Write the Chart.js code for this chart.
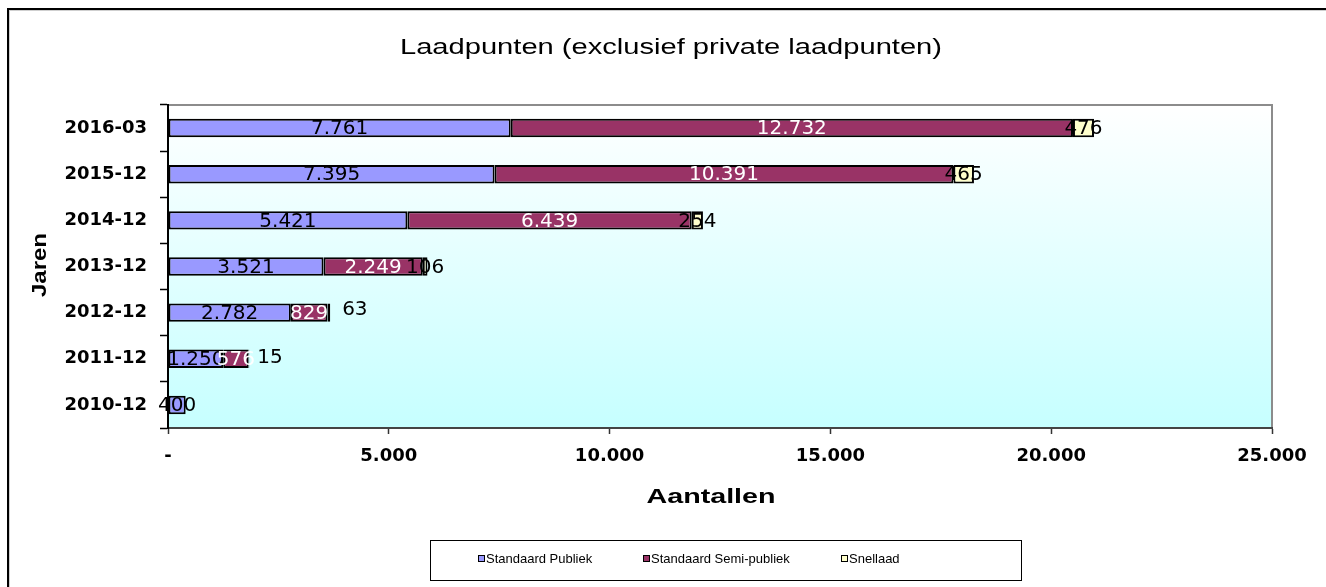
<!DOCTYPE html>
<html>
<head>
<meta charset="utf-8">
<script src="https://cdn.jsdelivr.net/npm/chart.js@4/dist/chart.umd.min.js"></script>
<style>
  body { margin: 0; background: #fff; }
  #wrap { width: 1326px; height: 587px; }
</style>
</head>
<body>
<div id="wrap"><canvas id="laadpunten" width="1326" height="587"></canvas></div>
<script>
const categories = ['2010-12', '2011-12', '2012-12', '2013-12', '2014-12', '2015-12', '2016-03'];
const publiek = [400, 1250, 2782, 3521, 5421, 7395, 7761];
const semiPubliek = [null, 576, 829, 2249, 6439, 10391, 12732];
const snellaad = [null, 15, 63, 106, 254, 465, 476];
const xTickLabels = ['-', '5.000', '10.000', '15.000', '20.000', '25.000'];

const seriesNames = ['Standaard Publiek', 'Standaard Semi-publiek', 'Snellaad'];
const seriesColors = ['#9999ff', '#993366', '#ffffcc'];
const labelColors = ['#000', '#fff', '#000'];

// dutch thousands separator
function nl(v) {
    return String(v).replace(/\B(?=(\d{3})+(?!\d))/g, '.');
}

// Excel text looks horizontally stretched, squeeze text into a width
function stretchText(ctx, text, x, y, font, width, rotate) {
    ctx.save();
    ctx.font = font;
    const w = ctx.measureText(text).width;
    ctx.translate(x, y);
    if (rotate) ctx.rotate(-Math.PI / 2);
    ctx.scale(width / w, 1);
    ctx.textAlign = 'center';
    ctx.textBaseline = 'middle';
    ctx.fillStyle = '#000';
    ctx.fillText(text, 0, 0);
    ctx.restore();
}

const decor = {
    id: 'decor',
    beforeDraw(chart) {
        const ctx = chart.ctx;
        const a = chart.chartArea;
        ctx.save();
        ctx.fillStyle = '#fff';
        ctx.fillRect(0, 0, chart.width, chart.height);
        const g = ctx.createLinearGradient(0, a.top, 0, a.bottom);
        g.addColorStop(0, '#ffffff');
        g.addColorStop(1, '#c6ffff');
        ctx.fillStyle = g;
        ctx.fillRect(a.left, a.top, a.right - a.left, a.bottom - a.top);
        // plot border top + right
        ctx.strokeStyle = '#8c8c8c';
        ctx.lineWidth = 2;
        ctx.beginPath();
        ctx.moveTo(a.left, a.top);
        ctx.lineTo(a.right, a.top);
        ctx.lineTo(a.right, a.bottom);
        ctx.stroke();
        // outer frame
        ctx.fillStyle = '#000';
        ctx.fillRect(7, 8, 2, chart.height);
        ctx.fillRect(7, 8, chart.width, 2);
        ctx.fillStyle = '#cfcfcf';
        ctx.fillRect(9, 10, 1, chart.height);
        ctx.fillRect(9, 10, chart.width, 1);
        ctx.restore();
    },
    afterDatasetsDraw(chart) {
        const ctx = chart.ctx;
        // labels Excel moved beside the bar
        const shift = { '2012-12': [26, -4], '2011-12': [21, -2] };
        ctx.save();
        ctx.font = '20px "DejaVu Sans"';
        ctx.textAlign = 'center';
        ctx.textBaseline = 'middle';
        chart.data.datasets.forEach((ds, i) => {
            const meta = chart.getDatasetMeta(i);
            meta.data.forEach((el, j) => {
                const v = ds.data[j];
                if (v === null) return;
                let x = (el.x + el.base) / 2;
                let y = el.y + 1;
                if (i === 2 && shift[categories[j]]) {
                    x += shift[categories[j]][0];
                    y += shift[categories[j]][1];
                }
                ctx.fillStyle = labelColors[i];
                ctx.fillText(nl(v), x, y);
            });
        });
        ctx.restore();
    },
    afterDraw(chart) {
        const ctx = chart.ctx;
        stretchText(ctx, 'Laadpunten (exclusief private laadpunten)', 671, 48, '22px "Liberation Sans", Arial', 542);
        stretchText(ctx, 'Aantallen', 711, 497, 'bold 21px "Liberation Sans", Arial', 129);
        stretchText(ctx, 'Jaren', 40, 265, 'bold 21px "Liberation Sans", Arial', 64, true);

        // legend box
        ctx.save();
        ctx.fillStyle = '#fff';
        ctx.fillRect(430, 540, 592, 41);
        ctx.strokeStyle = '#000';
        ctx.lineWidth = 1;
        ctx.strokeRect(430.5, 540.5, 591, 40);
        const lx = [478, 643, 841];
        ctx.font = '13px "Liberation Sans", Arial';
        ctx.textAlign = 'left';
        ctx.textBaseline = 'middle';
        seriesNames.forEach((name, i) => {
            ctx.fillStyle = seriesColors[i];
            ctx.fillRect(lx[i], 555, 7, 7);
            ctx.strokeStyle = '#000';
            ctx.strokeRect(lx[i] + 0.5, 555.5, 6, 6);
            ctx.fillStyle = '#000';
            ctx.fillText(name, lx[i] + 8, 559);
        });
        ctx.restore();
    }
};

const ctx = document.getElementById('laadpunten').getContext('2d');
const laadpunten = new Chart(ctx, {
    type: 'bar',
    data: {
        labels: categories,
        datasets: [publiek, semiPubliek, snellaad].map((d, i) => ({
            label: seriesNames[i],
            data: d,
            backgroundColor: seriesColors[i],
            borderColor: '#000',
            borderWidth: 2,
            borderSkipped: false,
            barPercentage: 0.4,
            categoryPercentage: 1.0
        }))
    },
    options: {
        indexAxis: 'y',
        responsive: false,
        animation: false,
        layout: {
            padding: { left: 0, right: 54, top: 105, bottom: 99 }
        },
        plugins: {
            legend: { display: false },
            title: { display: false },
            tooltip: { enabled: false }
        },
        scales: {
            x: {
                stacked: true,
                min: 0,
                max: 25000,
                ticks: {
                    stepSize: 5000,
                    color: '#000',
                    padding: 12,
                    font: { family: 'DejaVu Sans', size: 18, weight: 'bold' },
                    callback: (v, i) => xTickLabels[i]
                },
                grid: { drawOnChartArea: false, tickLength: 6, color: '#333', tickWidth: 1.5 },
                border: { color: '#444', width: 2 },
                afterFit: s => { s.height = 60; }
            },
            y: {
                stacked: true,
                reverse: true,
                ticks: {
                    color: '#000',
                    padding: 13,
                    font: { family: 'DejaVu Sans', size: 18, weight: 'bold' }
                },
                grid: { offset: true, drawOnChartArea: false, tickLength: 8, color: '#000', tickWidth: 1.5 },
                border: { color: '#000', width: 2 },
                afterFit: s => { s.width = 168; }
            }
        }
    },
    plugins: [decor]
});
</script>
</body>
</html>
